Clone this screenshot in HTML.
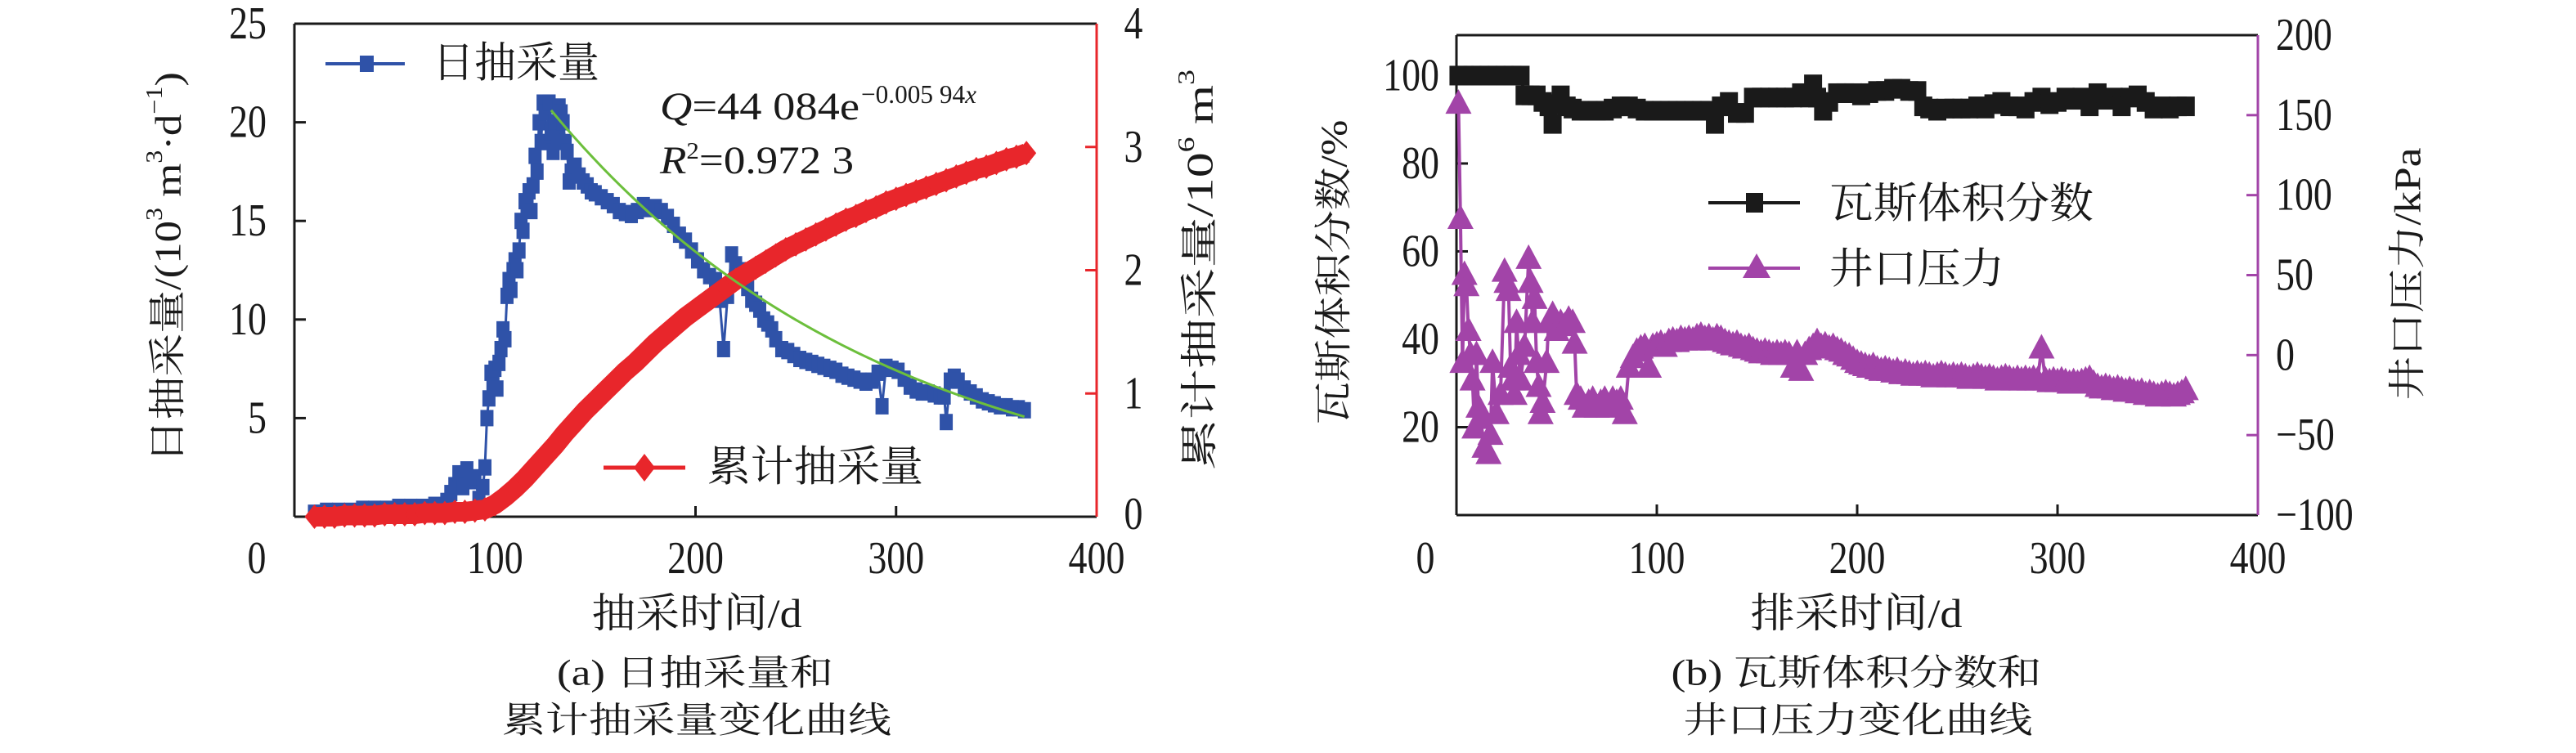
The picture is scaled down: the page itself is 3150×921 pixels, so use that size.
<!DOCTYPE html>
<html><head><meta charset="utf-8"><style>
html,body{margin:0;padding:0;background:#fff;}
svg{display:block;}
text{font-family:"Liberation Serif","Noto Serif CJK SC",serif;fill:#1a1a1a;}
</style></head><body>
<svg id="fig" width="3150" height="921" viewBox="0 0 3150 921" xmlns="http://www.w3.org/2000/svg">
<g id="chartA"></g>
<g id="chartB"></g>
</svg>
<script>
// ---------- Chart A data ----------
const blueDays=[10,13,16,19,22,25,28,31,34,37,40,43,46,49,52,55,58,61,64,67,70,73,76,78,80,82,84,86,88,90,92,94,95,96,97,98,99,100,101,102,103,104,105,106,107,108,109,110,111,112,113,114,115,116,117,118,119,120,121,122,123,124,125,126,127,128,129,130,131,132,133,134,135,136,137,138,140,142,144,146,148,150,153,156,159,162,165,168,171,174,177,180,183,186,189,192,195,198,201,204,207,210,212,214,216,218,220,222,224,226,228,230,232,234,236,238,240,243,246,249,252,255,258,261,264,267,270,273,276,279,282,285,288,291,293,295,298,301,304,307,310,313,316,319,322,324,325,327,329,331,334,337,340,343,346,349,352,355,358,361,364];
const blueVals=[0.2,0.2,0.3,0.2,0.3,0.2,0.3,0.2,0.4,0.3,0.4,0.3,0.4,0.3,0.5,0.4,0.5,0.4,0.5,0.4,0.6,0.5,0.8,1.2,1.6,2.2,1.5,2.4,1.8,2.0,0.9,1.5,2.5,5.0,6.0,7.3,6.8,7.5,6.5,7.8,8.5,9.5,9.0,11.2,12.0,11.5,12.5,13.0,12.5,13.5,15.0,14.5,16.0,15.8,16.5,15.5,16.8,18.3,17.5,20.0,19.0,21.0,20.5,19.0,21.0,19.5,18.5,20.0,19.2,20.8,20.5,20.0,19.0,18.5,17.0,17.5,17.8,17.3,17.0,16.8,16.5,16.4,16.2,16.0,15.8,15.5,15.4,15.3,15.5,15.8,15.6,15.7,15.5,15.2,14.8,14.3,14.0,13.5,13.0,12.5,12.2,12.0,11.0,8.5,11.2,13.3,12.8,12.5,12.0,11.6,11.0,10.8,10.5,10.0,9.8,9.5,9.0,8.5,8.4,8.2,8.0,7.9,7.8,7.7,7.6,7.5,7.4,7.2,7.1,7.0,6.9,6.8,6.9,7.3,5.6,7.6,7.5,7.4,7.0,6.6,6.4,6.3,6.3,6.2,6.1,6.1,4.8,6.9,7.1,6.9,6.5,6.3,6.1,5.9,5.8,5.7,5.6,5.6,5.5,5.5,5.4];
const redDays=[10,15,20,25,30,35,40,45,50,55,60,65,70,75,80,85,90,95,100,105,110,115,120,125,130,135,140,145,150,155,160,165,170,175,180,185,190,195,200,205,210,215,220,225,230,235,240,245,250,255,260,265,270,275,280,285,290,295,300,305,310,315,320,325,330,335,340,345,350,355,360,365];
const redVals=[0,0,0,0.01,0.01,0.01,0.01,0.02,0.02,0.02,0.02,0.03,0.03,0.03,0.04,0.04,0.05,0.06,0.1,0.16,0.23,0.31,0.4,0.49,0.58,0.68,0.77,0.86,0.94,1.02,1.1,1.18,1.25,1.33,1.41,1.48,1.55,1.62,1.68,1.74,1.8,1.86,1.92,1.97,2.02,2.07,2.12,2.17,2.21,2.25,2.29,2.33,2.37,2.41,2.44,2.48,2.51,2.55,2.58,2.61,2.64,2.67,2.7,2.73,2.76,2.79,2.82,2.84,2.87,2.9,2.92,2.95];
const fitParams=[44.084,-0.00594];
const fitRange=[128,365];
const xTicksA=[0,100,200,300,400];
const yTicksA=[5,10,15,20,25];
const y2TicksA=[0,1,2,3,4];

// ---------- Chart B data ----------
const gasDays=[1,4,8,12,16,20,24,28,32,34,37,40,43,46,48,50,52,55,58,62,66,70,74,78,82,86,90,94,98,102,106,110,114,118,122,126,129,132,136,140,144,148,152,156,160,164,168,172,176,178,180,183,186,190,194,198,202,206,210,214,218,222,226,230,233,236,240,244,248,252,256,260,264,268,272,276,280,284,288,292,296,300,304,308,312,316,320,324,328,332,336,340,344,348,352,356,360,364];
const gasVals=[100,100,100,100,100,100,100,100,100,95.5,95.5,95.5,94,93,89,93.5,95.5,93,92.5,92,92,92,92,92.5,93,93,92.5,92,92,92,92,92,92,92,92,92,89,93,94,91.5,91.5,95,95,95,95,95,95,96,95,98,95,92,94,96,96,96,95.5,96,96.5,96.5,97,97,96.5,96.5,93,92.5,92,92.5,92.5,92.5,92.5,93,92.5,93.5,94,93,93,92.5,94,95,93.5,94,95,94.5,95,93,96,94.5,95,93,95,95.5,94,92.5,93,92.5,93,93];
const presDays=[1,2,3,4,5,6,7,8,9,10,11,12,14,16,17,18,20,22,24,25,26,27,28,29,30,31,32,34,36,37,38,39,40,41,42,43,45,46,48,50,52,54,56,58,59,60,62,64,66,68,70,72,74,76,78,80,82,84,86,88,90,92,94,96,98,100,102,104,106,108,110,112,114,116,118,120,122,124,126,128,130,132,134,136,138,140,142,144,146,148,150,152,154,156,158,160,162,164,166,168,170,172,174,176,178,180,182,184,186,188,190,192,194,196,198,200,202,204,206,208,210,212,214,216,218,220,222,224,226,228,230,232,234,236,238,240,242,244,246,248,250,252,254,256,258,260,262,264,266,268,270,272,274,276,278,280,282,284,286,288,290,292,294,296,298,300,302,304,306,308,310,312,314,316,318,320,322,324,326,328,330,332,334,336,338,340,342,344,346,348,350,352,354,356,358,360,362,364];
const presVals=[157,85,-5,50,43,15,0,-16,-46,0,-33,-40,
-58,-62,-50,-5,-37,-25,52,45,40,-8,-16,-25,20,0,-16,
5,60,45,20,35,-5,-20,-37,-30,-5,20,25,
15,20,18,22,20,7,
-25,-28,-33,-30,-28,-33,-30,-28,-33,-28,-30,-28,-37,-8,-2,2,4,5,-8,5,
6,7,5,8,9,8,10,9,10,9,11,12,10,11,9,11,10,8,7,6,7,5,4,5,3,2,1,2,1,0,1,0,1,0,-8,1,-10,0,3,5,8,5,6,4,5,3,2,0,-1,-3,
-5,-6,-7,-8,-7,-9,-10,-9,-10,-11,
-10,-12,-11,-12,-13,-12,-13,-12,-13,-14,
-13,-12,-13,-14,-13,-14,-13,-14,-15,-14,
-13,-14,-15,-14,-15,-16,-15,-14,-15,-16,
-15,-16,-15,-16,-15,-16,4,-16,-17,-16,
-17,-16,-17,-18,-17,-18,-17,-16,-15,-18,
-20,-21,-20,-21,-22,-21,-22,-23,-22,-23,
-24,-23,-25,-24,-25,-26,-25,-24,-25,-26,
-25,-24,-22];
const xTicksB=[0,100,200,300,400];
const yTicksB=[20,40,60,80,100];
const y2TicksB=[-100,-50,0,50,100,150,200];

const NS="http://www.w3.org/2000/svg";
function mk(parent,tag,attrs,txt){const e=document.createElementNS(NS,tag);for(const k in attrs)e.setAttribute(k,attrs[k]);if(txt!==undefined)e.textContent=txt;parent.appendChild(e);return e;}

const A=document.getElementById('chartA');
const B=document.getElementById('chartB');

// ---------- Chart A axes ----------
const aL=360,aR=1341,aT=29,aB=632;
function axA(d){return aL+(d-0)/(400-0)*(aR-aL);}
function ayA(v){return aB-(v/25)*(aB-aT);}
function ay2A(v){return aB-(v/4)*(aB-aT);}

let e;
e=mk(A,'line',{x1:aL,y1:aT,x2:aR,y2:aT,stroke:'#1a1a1a','stroke-width':3});


e=mk(A,'line',{x1:aL,y1:aT,x2:aL,y2:aB,stroke:'#1a1a1a','stroke-width':3});


e=mk(A,'line',{x1:aL,y1:aB,x2:aR,y2:aB,stroke:'#1a1a1a','stroke-width':3});


e=mk(A,'line',{x1:aR,y1:aT,x2:aR,y2:aB,stroke:'#e8262b','stroke-width':3});



function numLabel(parent,x,y,txt,anchor,size,name){
  const t=mk(parent,'text',{x:x,y:y,'font-size':size||56,'text-anchor':anchor||'middle','dominant-baseline':'central',transform:`translate(${x},0) scale(0.82,1) translate(${-x},0)`},txt);
  
  
  return t;
}
xTicksA.forEach(d=>{
  const x=axA(d);
  if(d>0&&d<400){e=mk(A,'line',{x1:x,y1:aB,x2:x,y2:aB-13,stroke:'#1a1a1a','stroke-width':3});
  
  }
  numLabel(A,d===0?314:x,683,String(d),'middle',56,'x-tick-label');
});
yTicksA.forEach(v=>{
  const y=ayA(v);
  if(v<25){e=mk(A,'line',{x1:aL,y1:y,x2:aL+14,y2:y,stroke:'#1a1a1a','stroke-width':3});
  
  }
  numLabel(A,326,y,String(v),'end',56,'y-tick-label');
});
y2TicksA.forEach(v=>{
  const y=ay2A(v);
  if(v>0&&v<4){e=mk(A,'line',{x1:aR,y1:y,x2:aR-14,y2:y,stroke:'#e8262b','stroke-width':3});
  
  }
  numLabel(A,1386,v===0?629:y,String(v),'middle',56,'y2-tick-label');
});

// blue series
let pts=blueDays.map((d,i)=>axA(d)+','+ayA(blueVals[i])).join(' ');
e=mk(A,'polyline',{points:pts,fill:'none',stroke:'#2f52a8','stroke-width':3});


blueDays.forEach((d,i)=>{
  const m=mk(A,'rect',{x:axA(d)-8,y:ayA(blueVals[i])-10,width:16,height:20,fill:'#2f52a8'});
  
  
});
// red series
pts=redDays.map((d,i)=>axA(d)+','+ay2A(redVals[i])).join(' ');
e=mk(A,'polyline',{points:pts,fill:'none',stroke:'#e8262b','stroke-width':24,'stroke-linejoin':'round'});


redDays.forEach((d,i)=>{
  const x=axA(d),y=ay2A(redVals[i]);
  const m=mk(A,'polygon',{points:`${x},${y-15} ${x+12},${y} ${x},${y+15} ${x-12},${y}`,fill:'#e8262b'});
  
  
});
// fit curve
const fitPts=[];
for(let d=fitRange[0];d<=fitRange[1];d+=2){fitPts.push(axA(d)+','+ayA(fitParams[0]*Math.exp(fitParams[1]*d)));}
e=mk(A,'polyline',{points:fitPts.join(' '),fill:'none',stroke:'#6cbf3c','stroke-width':3});



// legend A
e=mk(A,'line',{x1:398,y1:78,x2:495,y2:78,stroke:'#2f52a8','stroke-width':4});


e=mk(A,'rect',{x:440,y:68,width:17,height:20,fill:'#2f52a8'});


e=mk(A,'text',{x:529,y:78,'font-size':52,'dominant-baseline':'central',textLength:204,lengthAdjust:'spacingAndGlyphs'},'日抽采量');


e=mk(A,'line',{x1:738,y1:572,x2:838,y2:572,stroke:'#e8262b','stroke-width':5});


e=mk(A,'polygon',{points:'788,555 801,572 788,589 775,572',fill:'#e8262b'});


e=mk(A,'text',{x:865,y:572,'font-size':52,'dominant-baseline':'central',textLength:264,lengthAdjust:'spacingAndGlyphs'},'累计抽采量');



// equation
e=mk(A,'text',{x:807,y:146,'font-size':48,textLength:244,lengthAdjust:'spacingAndGlyphs'});
e.innerHTML='<tspan font-style="italic">Q</tspan>=44 084e';


e=mk(A,'text',{x:1053,y:126,'font-size':32,textLength:141,lengthAdjust:'spacingAndGlyphs'});
e.innerHTML='−0.005 94<tspan font-style="italic">x</tspan>';


e=mk(A,'text',{x:807,y:212,'font-size':48,textLength:237,lengthAdjust:'spacingAndGlyphs'});
e.innerHTML='<tspan font-style="italic">R</tspan><tspan font-size="28" dy="-18">2</tspan><tspan dy="18">=0.972 3</tspan>';



// titles A
e=mk(A,'text',{x:852,y:750,'font-size':50,'text-anchor':'middle','dominant-baseline':'central',textLength:257,lengthAdjust:'spacingAndGlyphs'},'抽采时间/d');


e=mk(A,'text',{x:0,y:0,'font-size':46,'text-anchor':'middle','dominant-baseline':'central',textLength:478,lengthAdjust:'spacingAndGlyphs',transform:'translate(205,327) rotate(-90)'});
e.innerHTML='日抽采量/(10<tspan font-size="28" dy="-16">3</tspan><tspan dy="16"> m</tspan><tspan font-size="28" dy="-16">3</tspan><tspan dy="16">·d</tspan><tspan font-size="28" dy="-16">−1</tspan><tspan dy="16">)</tspan>';


e=mk(A,'text',{x:0,y:0,'font-size':46,'text-anchor':'middle','dominant-baseline':'central',textLength:490,lengthAdjust:'spacingAndGlyphs',transform:'translate(1467,330) rotate(-90)'});
e.innerHTML='累计抽采量/10<tspan font-size="28" dy="-16">6</tspan><tspan dy="16"> m</tspan><tspan font-size="28" dy="-16">3</tspan>';


e=mk(A,'text',{x:850,y:823,'font-size':44,'text-anchor':'middle','dominant-baseline':'central',textLength:338,lengthAdjust:'spacingAndGlyphs'},'(a) 日抽采量和');


e=mk(A,'text',{x:852,y:881,'font-size':44,'text-anchor':'middle','dominant-baseline':'central',textLength:476,lengthAdjust:'spacingAndGlyphs'},'累计抽采量变化曲线');



// ---------- Chart B ----------
const bL=1781,bR=2761,bT=43,bB=630;
function axB(d){return bL+(d/400)*(bR-bL);}
function ayB(v){return bB-(v/109.2)*(bB-bT);}
function ay2B(v){return bB-((v+100)/300)*(bB-bT);}

e=mk(B,'line',{x1:bL,y1:bT,x2:bR,y2:bT,stroke:'#1a1a1a','stroke-width':3});


e=mk(B,'line',{x1:bL,y1:bT,x2:bL,y2:bB,stroke:'#1a1a1a','stroke-width':3});


e=mk(B,'line',{x1:bL,y1:bB,x2:bR,y2:bB,stroke:'#1a1a1a','stroke-width':3});


e=mk(B,'line',{x1:bR,y1:bT,x2:bR,y2:bB,stroke:'#a244a8','stroke-width':3});



xTicksB.forEach(d=>{
  const x=axB(d);
  if(d>0&&d<400){e=mk(B,'line',{x1:x,y1:bB,x2:x,y2:bB-13,stroke:'#1a1a1a','stroke-width':3});
  
  }
  numLabel(B,d===0?1743:x,683,String(d),'middle',56,'x-tick-label');
});
yTicksB.forEach(v=>{
  const y=ayB(v);
  if(v<100){e=mk(B,'line',{x1:bL,y1:y,x2:bL+14,y2:y,stroke:'#1a1a1a','stroke-width':3});
  
  }
  numLabel(B,1760,y,String(v),'end',56,'y-tick-label');
});
y2TicksB.forEach(v=>{
  const y=ay2B(v);
  if(v>-100&&v<200){e=mk(B,'line',{x1:bR,y1:y,x2:bR-14,y2:y,stroke:'#a244a8','stroke-width':3});
  
  }
  numLabel(B,2783,y,v<0?'−'+Math.abs(v):String(v),'start',56,'y2-tick-label');
});

// pressure series
pts=presDays.map((d,i)=>axB(d)+','+ay2B(presVals[i])).join(' ');
e=mk(B,'polyline',{points:pts,fill:'none',stroke:'#a244a8','stroke-width':4});


presDays.forEach((d,i)=>{
  const x=axB(d),y=ay2B(presVals[i]);
  const m=mk(B,'polygon',{points:`${x},${y-18} ${x+16},${y+12} ${x-16},${y+12}`,fill:'#a244a8'});
  
  
});
// gas series
pts=gasDays.map((d,i)=>axB(d)+','+ayB(gasVals[i])).join(' ');
e=mk(B,'polyline',{points:pts,fill:'none',stroke:'#1a1a1a','stroke-width':4});


gasDays.forEach((d,i)=>{
  const m=mk(B,'rect',{x:axB(d)-11,y:ayB(gasVals[i])-12,width:22,height:24,fill:'#1a1a1a'});
  
  
});

// legend B
e=mk(B,'line',{x1:2089,y1:248,x2:2201,y2:248,stroke:'#1a1a1a','stroke-width':4});


e=mk(B,'rect',{x:2135,y:236,width:21,height:24,fill:'#1a1a1a'});


e=mk(B,'text',{x:2237,y:250,'font-size':52,'dominant-baseline':'central',textLength:323,lengthAdjust:'spacingAndGlyphs'},'瓦斯体积分数');


e=mk(B,'line',{x1:2089,y1:328,x2:2201,y2:328,stroke:'#a244a8','stroke-width':4});


e=mk(B,'polygon',{points:'2148,310 2165,340 2131,340',fill:'#a244a8'});


e=mk(B,'text',{x:2237,y:330,'font-size':52,'dominant-baseline':'central',textLength:214,lengthAdjust:'spacingAndGlyphs'},'井口压力');



// titles B
e=mk(B,'text',{x:2270,y:750,'font-size':50,'text-anchor':'middle','dominant-baseline':'central',textLength:259,lengthAdjust:'spacingAndGlyphs'},'排采时间/d');


e=mk(B,'text',{x:0,y:0,'font-size':46,'text-anchor':'middle','dominant-baseline':'central',textLength:373,lengthAdjust:'spacingAndGlyphs',transform:'translate(1631,333) rotate(-90)'},'瓦斯体积分数/%');


e=mk(B,'text',{x:0,y:0,'font-size':46,'text-anchor':'middle','dominant-baseline':'central',textLength:309,lengthAdjust:'spacingAndGlyphs',transform:'translate(2944,335) rotate(-90)'},'井口压力/kPa');


e=mk(B,'text',{x:2270,y:823,'font-size':44,'text-anchor':'middle','dominant-baseline':'central',textLength:453,lengthAdjust:'spacingAndGlyphs'},'(b) 瓦斯体积分数和');


e=mk(B,'text',{x:2272,y:881,'font-size':44,'text-anchor':'middle','dominant-baseline':'central',textLength:427,lengthAdjust:'spacingAndGlyphs'},'井口压力变化曲线');


</script>
</body></html>
